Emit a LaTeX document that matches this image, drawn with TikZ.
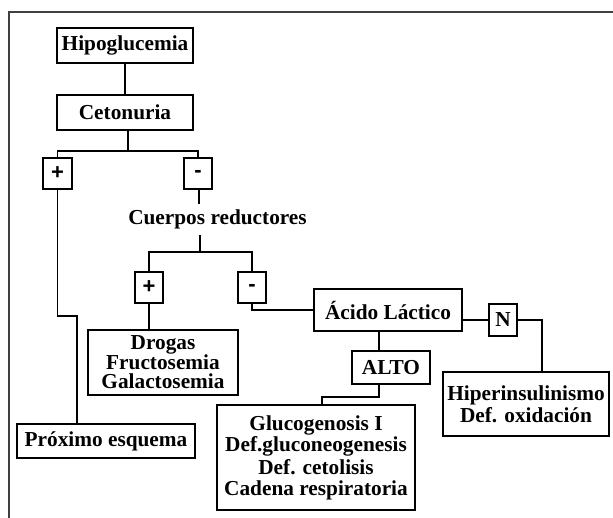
\documentclass[tikz,border=0pt]{standalone}
\usepackage{fontspec}
\setmainfont{Liberation Serif}
\newfontfamily\signfont{Liberation Sans}
\begin{document}
\begin{tikzpicture}[x=1bp,y=-1bp,
  every node/.style={font=\fontsize{21.3bp}{21bp}\selectfont\bfseries, inner sep=0pt, align=center},
  box/.style={draw, line width=1.1bp, minimum width=#1},
  sign/.style={draw, line width=1.1bp, minimum width=28bp, minimum height=31bp, font=\fontsize{22bp}{22bp}\selectfont\signfont\bfseries},
  conn/.style={line width=1.5bp}]
\useasboundingbox (0,0) rectangle (613,518);
\draw[line width=2bp, color=black!75] (9,518) -- (9,12) -- (613,12);

\node[box=136bp, minimum height=35bp] (hipo) at (125,45.5) {Hipoglucemia};
\node[box=136bp, minimum height=35bp] (ceto) at (125,112.5) {Cetonuria};
\node[sign, minimum width=29bp] (p1) at (57.5,173.5) {+};
\node[sign] (m1) at (198,173.5) {-};
\node[minimum height=31bp] (cuer) at (217.5,219.5) {Cuerpos reductores};
\node[sign] (p2) at (149,287.5) {+};
\node[sign] (m2) at (252,287.5) {-};
\node[box=150bp, minimum height=65bp, font=\fontsize{21.3bp}{19.5bp}\selectfont\bfseries] (drog) at (163,362.5) {Drogas\\Fructosemia\\Galactosemia};
\node[box=178bp, minimum height=34bp] (prox) at (106,441) {Próximo esquema};
\node[box=148bp, minimum height=42bp] (acid) at (388,310) {Ácido Láctico};
\node[box=28bp, minimum height=32bp] (n) at (503,320) {N};
\node[box=78bp, minimum height=33bp] (alto) at (391,367.5) {ALTO};
\node[box=198bp, minimum height=105bp] (gluc) at (316,457.5) {Glucogenosis I\\Def.gluconeogenesis\\[2bp]Def. cetolisis\\Cadena respiratoria};
\node[box=166bp, minimum height=64bp, font=\fontsize{21.3bp}{22bp}\selectfont\bfseries] (hipe) at (526,404) {Hiperinsulinismo\\Def. oxidación};

\coordinate (j1) at (128,151);
\coordinate (j2) at (200,252);
\coordinate (k1) at (77,316);
\coordinate (k3) at (542,320);
\coordinate (k4) at (379,397);
\coordinate (k5) at (322,397);

\draw[conn] (hipo) -- (ceto);
\draw[conn] (ceto.south -| j1) -- (j1);
\draw[conn] (p1.north) |- (j1) -| (m1.north);
\draw[conn] (m1.south -| 199,0) -- (cuer.north -| 199,0);
\draw[conn] (cuer.south -| j2) -- (j2);
\draw[conn] (p2.north) |- (j2) -| (m2.north);
\draw[conn] (p1.south) |- (k1) -- (prox.north -| k1);
\draw[conn] (p2.south) -- (drog.north -| p2.south);
\draw[conn] (m2.south) |- (acid.west);
\draw[conn] (acid.east |- n.west) -- (n.west);
\draw[conn] (n.east) -- (k3) -- (hipe.north -| k3);
\draw[conn] (acid.south -| k4) -- (alto.north -| k4);
\draw[conn] (alto.south -| k4) -- (k4) -- (k5) -- (gluc.north -| k5);
\end{tikzpicture}
\end{document}
